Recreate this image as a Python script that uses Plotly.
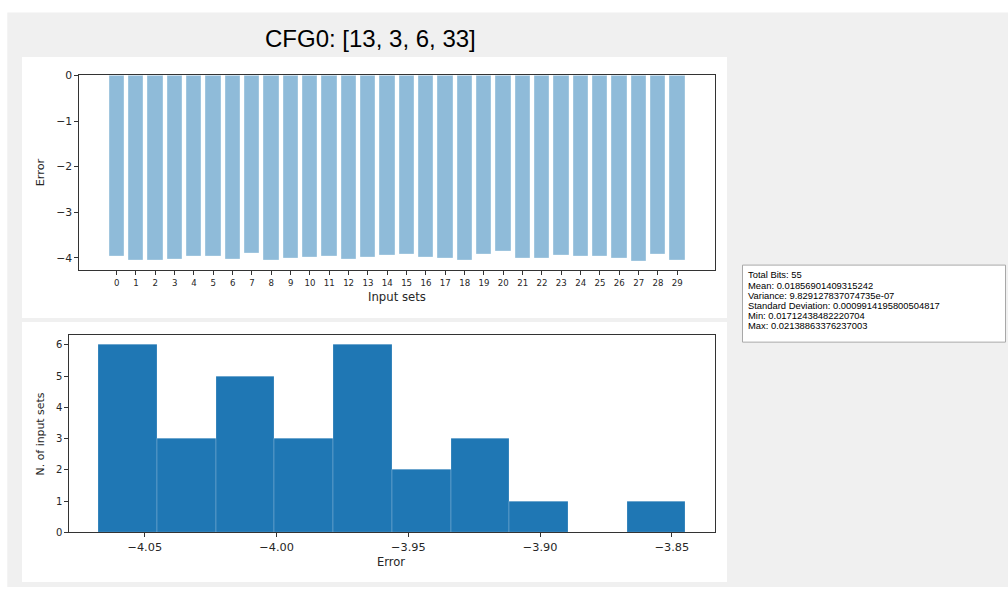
import numpy as np
import plotly.graph_objects as go

W, H = 1008, 592

# ---------------- data ----------------
title_text = "CFG0: [13, 3, 6, 33]"
input_sets = list(range(30))
errors = [
    -3.958, -4.050, -4.050, -4.035, -3.968, -3.968, -4.028, -3.895, -4.052, -4.012,
    -3.990, -3.962, -4.033, -3.990, -3.940, -3.930, -3.988, -4.012, -4.055, -3.928,
    -3.8448, -4.010, -4.010, -3.945, -3.962, -3.973, -4.012, -4.0675, -3.915, -4.048,
]
n_bins = 10
hist_xticks = [-4.05, -4.00, -3.95, -3.90, -3.85]
hist_yticks = [0, 1, 2, 3, 4, 5, 6]
bar_yticks = [0, -1, -2, -3, -4]
stats_lines = [
    "Total Bits: 55",
    "Mean: 0.01856901409315242",
    "Variance: 9.829127837074735e-07",
    "Standard Deviation: 0.0009914195800504817",
    "Min: 0.01712438482220704",
    "Max: 0.02138863376237003",
]

counts, edges = np.histogram(errors, bins=n_bins)
centers = (edges[:-1] + edges[1:]) / 2
bin_w = edges[1] - edges[0]


def px(x):
    return x / W


def py(y):
    return 1 - y / H


FONT = "DejaVu Sans"
AX = dict(showline=True, linecolor="#333333", linewidth=1, mirror=True,
          ticks="outside", ticklen=4, tickcolor="#333333", showgrid=False,
          zeroline=False)

fig = go.Figure()
fig.add_trace(go.Bar(x=input_sets, y=errors, width=0.8,
                     marker=dict(color="rgba(31,119,180,0.5)",
                                 line=dict(color="rgba(255,255,255,0.6)", width=0.6)),
                     xaxis="x", yaxis="y", showlegend=False))
fig.add_trace(go.Bar(x=centers, y=counts, width=bin_w,
                     marker=dict(color="#1f77b4",
                                 line=dict(color="rgba(255,255,255,0.35)", width=0.6)),
                     xaxis="x2", yaxis="y2", showlegend=False))

shapes = [
    dict(type="rect", xref="paper", yref="paper", x0=px(7.3), x1=1, y0=0, y1=py(6.7),
         fillcolor="#f0f0f0", line=dict(width=0), layer="below"),
    dict(type="rect", xref="paper", yref="paper", x0=px(22), x1=px(727), y0=py(318), y1=py(52),
         fillcolor="white", line=dict(width=0), layer="below"),
    dict(type="rect", xref="paper", yref="paper", x0=px(22), x1=px(727), y0=py(587), y1=py(322),
         fillcolor="white", line=dict(width=0), layer="below"),
    dict(type="rect", xref="paper", yref="paper", x0=px(742.5), x1=px(1005.5), y0=py(342.5), y1=py(264),
         fillcolor="white", line=dict(color="#a8a8a8", width=1), layer="below"),
]

annotations = [
    dict(text=title_text, x=px(370.3), y=py(33), xref="paper", yref="paper",
         showarrow=False, xanchor="center", yanchor="middle",
         font=dict(family="Liberation Sans, Arial", size=24, color="#000000")),
    dict(text="Input sets", x=px(397), y=py(296.5), xref="paper", yref="paper",
         showarrow=False, xanchor="center", yanchor="middle",
         font=dict(family=FONT, size=11.7, color="#262626")),
    dict(text="Error", x=px(40.5), y=py(170), xref="paper", yref="paper", textangle=-90,
         showarrow=False, xanchor="center", yanchor="middle",
         font=dict(family=FONT, size=11.3, color="#262626")),
    dict(text="Error", x=px(391), y=py(567), xref="paper", yref="paper",
         showarrow=False, xanchor="center", yanchor="middle",
         font=dict(family=FONT, size=11.5, color="#262626")),
    dict(text="N. of input sets", x=px(40.5), y=py(436), xref="paper", yref="paper", textangle=-90,
         showarrow=False, xanchor="center", yanchor="middle",
         font=dict(family=FONT, size=10.9, color="#262626")),
]
line_y = [274, 284.3, 294.6, 304.9, 315.2, 325.5]
for t, yy in zip(stats_lines, line_y):
    annotations.append(dict(text=t, x=px(746), y=py(yy), xref="paper", yref="paper",
                            showarrow=False, xanchor="left", yanchor="middle",
                            font=dict(family="Liberation Sans, Arial", size=9.4, color="#000000")))

fig.update_layout(
    width=W, height=H, margin=dict(l=0, r=0, t=0, b=0),
    paper_bgcolor="white", plot_bgcolor="rgba(0,0,0,0)",
    bargap=0, showlegend=False,
    shapes=shapes, annotations=annotations,
    xaxis=dict(AX, domain=[px(79.3), px(715)], range=[-1.93, 30.95], anchor="y",
               tickvals=input_sets, ticktext=[str(i) for i in input_sets],
               tickfont=dict(family=FONT, size=8.6, color="#262626")),
    yaxis=dict(AX, domain=[py(269.3), py(70.7)], range=[-4.27, 0], anchor="x",
               tickvals=bar_yticks, tickfont=dict(family=FONT, size=10.8, color="#262626")),
    xaxis2=dict(AX, domain=[px(69.3), px(715)], range=[edges[0] - 0.05 * (edges[-1] - edges[0]),
                                                      edges[-1] + 0.05 * (edges[-1] - edges[0])],
                anchor="y2", tickvals=hist_xticks, tickformat=".2f",
                tickfont=dict(family=FONT, size=11.3, color="#262626")),
    yaxis2=dict(AX, domain=[py(536.3), py(335.7)], range=[0, 6.3], anchor="x2",
                tickvals=hist_yticks, tickfont=dict(family=FONT, size=10, color="#262626")),
)

fig.write_html("out.html")
